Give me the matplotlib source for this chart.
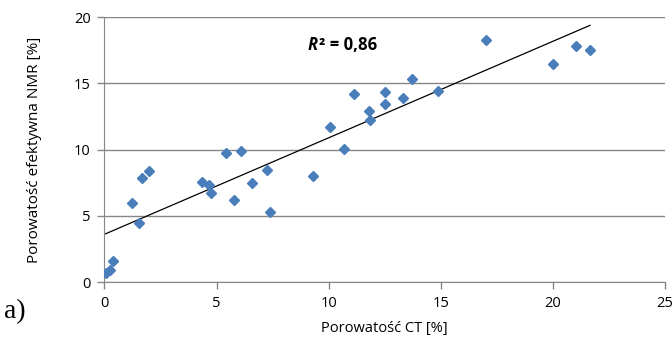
import matplotlib.pyplot as plt
import numpy as np

# Porowatość CT [%] i porowatość efektywna NMR [%]
ct = [0.07, 0.25, 0.39, 1.21, 1.54, 1.68, 1.98, 4.36, 4.65, 4.73, 5.44, 6.08,
      5.77, 6.60, 7.25, 7.37, 9.30, 10.04, 10.67, 11.14, 11.78, 11.86, 12.51,
      12.51, 13.33, 13.71, 14.89, 17.02, 20.02, 21.05, 21.66]
nmr = [0.66, 0.90, 1.60, 5.94, 4.43, 7.87, 8.40, 7.57, 7.32, 6.69, 9.71, 9.89,
       6.19, 7.50, 8.45, 5.26, 8.02, 11.72, 10.04, 14.19, 12.90, 12.23, 14.36,
       13.41, 13.86, 15.35, 14.42, 18.26, 16.45, 17.79, 17.51]

x_ticks = [0, 5, 10, 15, 20, 25]
y_ticks = [0, 5, 10, 15, 20]

grey = '#868686'
blue = '#4a7ebb'
font = ['Open Sans', 'DejaVu Sans']

fig = plt.figure(figsize=(6.72, 3.47), dpi=100)
ax = fig.add_axes([0.1555, 0.1873, 0.834, 0.7637])

ax.plot(ct, nmr, linestyle='none', marker='D', ms=4.8, color=blue,
        markeredgecolor=blue, zorder=3)

# linia trendu (regresja liniowa)
a, b = np.polyfit(ct, nmr, 1)
xs = np.array([0, max(ct)])
ax.plot(xs, a * xs + b, color='black', lw=0.9, zorder=2)

ax.set_xlim(0, 25)
ax.set_ylim(0, 20)
ax.set_xticks(x_ticks)
ax.set_yticks(y_ticks)
ax.grid(axis='y', color=grey, lw=1)
ax.set_axisbelow(True)
for s in ['top', 'right']:
    ax.spines[s].set_visible(False)
for s in ['left', 'bottom']:
    ax.spines[s].set_color(grey)
ax.tick_params(colors=grey, length=5, width=1, labelcolor='black',
               labelsize=10.5, pad=5)
for lab in ax.get_xticklabels() + ax.get_yticklabels():
    lab.set_family(font)

ax.set_xlabel('Porowatość CT [%]', family=font, fontsize=10.5, labelpad=7)
ax.set_ylabel('Porowatość efektywna NMR [%]', family=font, fontsize=11,
              labelpad=23)

r = ax.text(0.363, 0.894, 'R', transform=ax.transAxes, family=font,
            fontsize=12, fontweight='bold', style='italic',
            ha='left', va='center')
ax.annotate('² = 0,86', xy=(1, 0), xycoords=r, xytext=(1, 0),
            textcoords='offset points', family=font, fontsize=12,
            fontweight='bold', ha='left', va='bottom')
fig.text(0.006, 0.103, 'a)', family=['Liberation Serif', 'DejaVu Serif'],
         fontsize=20, ha='left', va='center')

fig.savefig('out.png', dpi=100)
